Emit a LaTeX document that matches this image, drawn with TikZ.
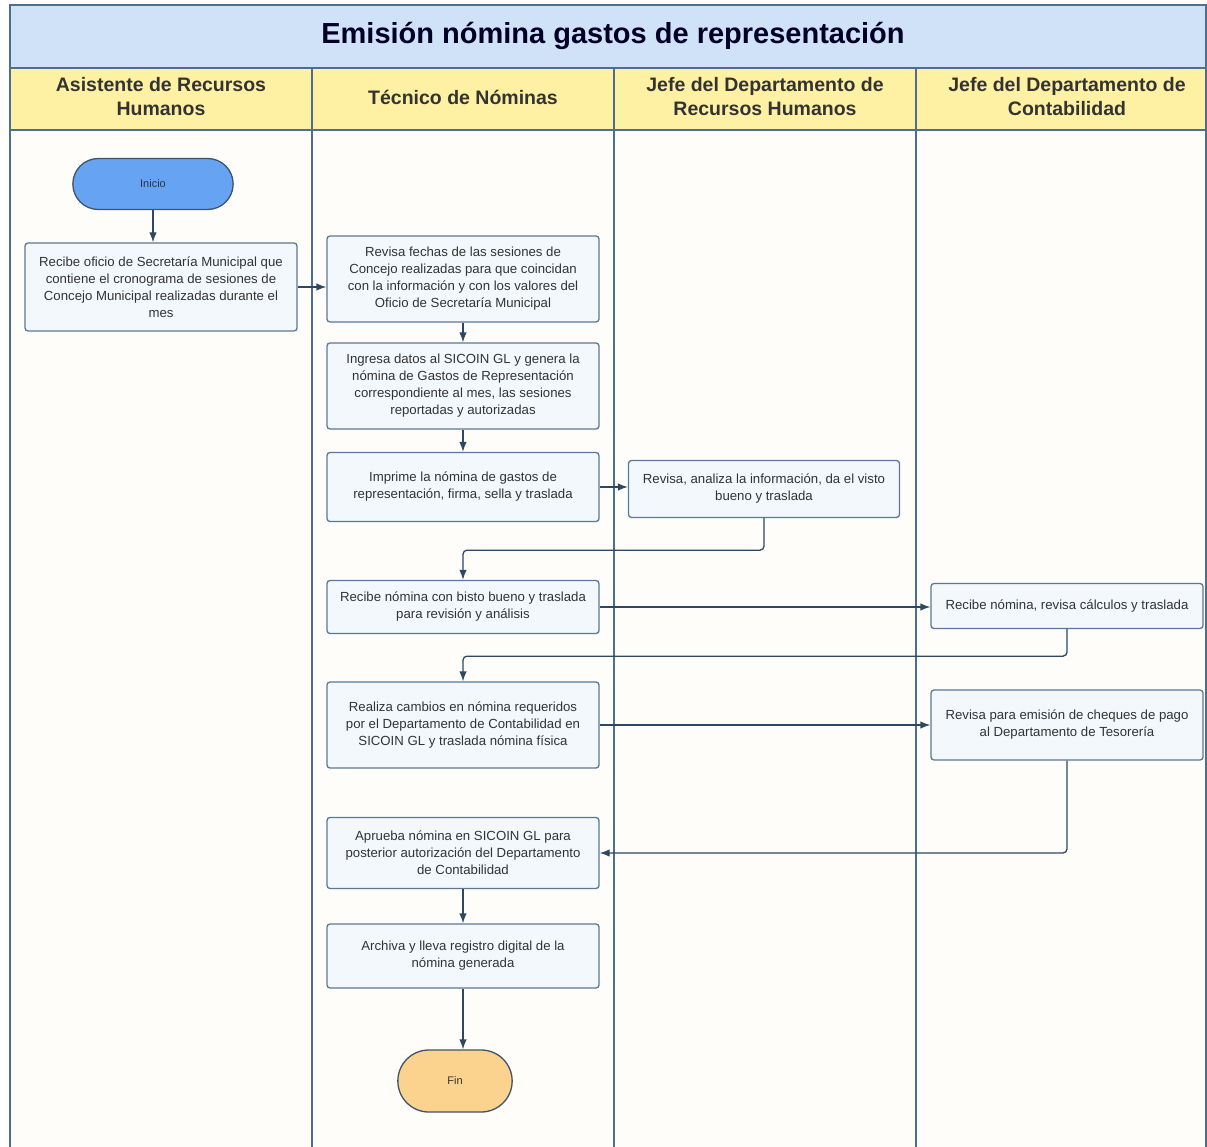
\documentclass[tikz,border=0pt]{standalone}
\usepackage{fontspec}
\setmainfont{Liberation Sans}
\usetikzlibrary{arrows.meta,shapes.misc}
\definecolor{titlebg}{HTML}{CFE2F8}
\definecolor{headbg}{HTML}{FFF1A3}
\definecolor{lanebg}{HTML}{FFFDF9}
\definecolor{lanebd}{HTML}{4E6E8E}
\definecolor{boxbg}{HTML}{F3F8FD}
\definecolor{boxbd}{HTML}{5B7997}
\definecolor{startbg}{HTML}{66A3F2}
\definecolor{endbg}{HTML}{FBD38F}
\definecolor{flowc}{HTML}{2E4863}
\definecolor{txt}{HTML}{333333}

\begin{document}
\begin{tikzpicture}[x=1pt,y=-1pt,
    proc/.style={draw=boxbd,fill=boxbg,rounded corners=3pt,line width=1.3pt,minimum width=272pt,align=center,text=txt,font=\fontsize{13.2}{17}\selectfont},
    term/.style={draw=boxbd!70!black,rounded rectangle,line width=1.3pt,text=txt,font=\fontsize{11}{13}\selectfont},
    head/.style={align=center,text=txt,font=\fontsize{19.5}{24}\selectfont\bfseries},
    flow/.style={line width=1.3pt,draw=flowc,-{Latex[length=10pt,width=7.5pt]}}]
    \useasboundingbox (0,0) rectangle (1207,1147);

    % lanes, header and title
    \fill[lanebg] (10,130) rectangle (1206,1147);
    \fill[headbg] (10,68) rectangle (1206,130);
    \fill[titlebg] (10,5) rectangle (1206,68);
    \draw[lanebd,line width=1.3pt] (10,1147) -- (10,5) -- (1206,5) -- (1206,1147);
    \draw[lanebd,line width=1.3pt] (10,68) -- (1206,68);
    \draw[lanebd,line width=1.3pt] (10,130) -- (1206,130);
    \foreach \x in {312,614,916}
        \draw[lanebd,line width=1.3pt] (\x,68) -- (\x,1147);

    \node[text=black!85!blue,font=\fontsize{29}{33}\selectfont\bfseries](title)at(613,36) {Emisión nómina gastos de representación};
    \node[head](h1)at(161,97) {Asistente de Recursos\\Humanos};
    \node[head](h2)at(463,97) {Técnico de Nóminas};
    \node[head](h3)at(765,97) {Jefe del Departamento de\\Recursos Humanos};
    \node[head](h4)at(1067,97) {Jefe del Departamento de\\Contabilidad};

    % steps
    \node[term,fill=startbg,minimum width=167pt,minimum height=51pt](ini)at(153,184) {Inicio};
    \node[proc,minimum height=88pt](A1)at(161,287) {Recibe oficio de Secretaría Municipal que\\contiene el cronograma de sesiones de\\Concejo Municipal realizadas durante el\\mes};
    \node[proc,minimum height=86pt](B1)at(463,279) {Revisa fechas de las sesiones  de\\Concejo realizadas para que coincidan\\con la información y con los valores del\\Oficio de Secretaría Municipal};
    \node[proc,minimum height=86pt](B2)at(463,386) {Ingresa datos al SICOIN GL y genera la\\nómina de Gastos de Representación\\correspondiente al mes, las sesiones\\reportadas y autorizadas};
    \node[proc,minimum height=69pt](B3)at(463,487) {Imprime la nómina de gastos de\\representación, firma, sella y traslada};
    \node[proc,minimum width=271pt,minimum height=57pt](C1)at(764,489) {Revisa, analiza  la información, da el visto\\bueno y traslada};
    \node[proc,minimum height=53pt](B4)at(463,607) {Recibe nómina con bisto bueno y traslada\\para revisión y análisis};
    \node[proc,minimum height=45pt](D1)at(1067,606) {Recibe nómina, revisa cálculos y traslada};
    \node[proc,minimum height=86pt](B5)at(463,725) {Realiza cambios en nómina requeridos\\por el Departamento de Contabilidad en\\SICOIN GL  y traslada nómina física};
    \node[proc,minimum height=70pt](D2)at(1067,725) {Revisa para emisión de cheques de pago\\al Departamento de Tesorería};
    \node[proc,minimum height=71pt](B6)at(463,853) {Aprueba nómina en SICOIN GL para\\posterior autorización del Departamento\\de Contabilidad};
    \node[proc,minimum height=64pt](B7)at(463,956) {Archiva y lleva registro digital de la\\nómina generada};
    \node[term,fill=endbg,minimum width=121pt,minimum height=62pt](fin)at(455,1081) {Fin};

    % connectors
    \draw[flow](ini.south) -- (ini.south |- A1.north);
    \draw[flow](A1.east) -- (A1.east -| B1.west);
    \draw[flow](B1) -- (B2);
    \draw[flow](B2) -- (B3);
    \draw[flow](B3.east) -- (B3.east -| C1.west);
    \draw[flow,rounded corners=4pt](C1.south) -- ++(0,32) -| (B4.north);
    \draw[flow](B4.east) -- (B4.east -| D1.west);
    \draw[flow,rounded corners=4pt](D1.south) -- ++(0,27) -| (B5.north);
    \draw[flow](B5.east) -- (B5.east -| D2.west);
    \draw[flow,rounded corners=4pt](D2.south) |- (B6.east);
    \draw[flow](B6) -- (B7);
    \draw[flow](B7.south) -- (B7.south |- fin.north);
\end{tikzpicture}
\end{document}
